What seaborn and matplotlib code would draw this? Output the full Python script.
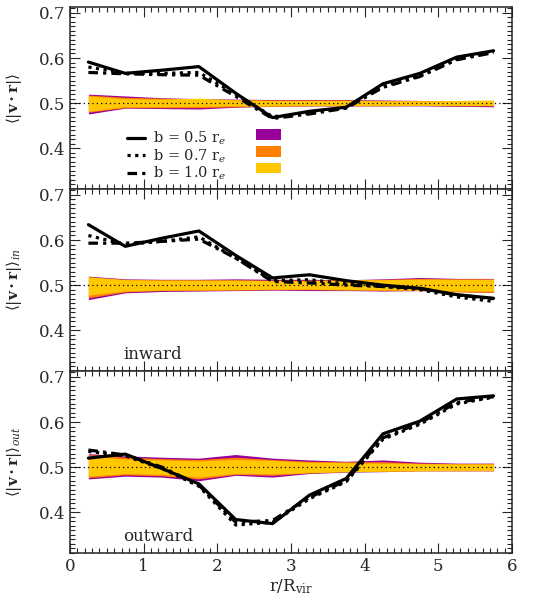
import numpy as np
import pandas as pd
import seaborn as sns
import matplotlib
matplotlib.use("Agg")
import matplotlib.pyplot as plt
from matplotlib.ticker import MultipleLocator, FormatStrFormatter
from matplotlib.lines import Line2D
from matplotlib.patches import Patch

# radial bins (r / R_vir)
r_bins = [0.25, 0.75, 1.25, 1.75, 2.25, 2.75, 3.25, 3.75, 4.25, 4.75, 5.25, 5.75]
b_labels = ["0.5", "0.7", "1.0"]

# <|v.r|> all galaxies
all_b05 = [0.591, 0.566, 0.573, 0.581, 0.522, 0.468, 0.482, 0.491, 0.543, 0.566, 0.602, 0.616]
all_b07 = [0.580, 0.566, 0.566, 0.568, 0.520, 0.470, 0.478, 0.490, 0.538, 0.561, 0.598, 0.613]
all_b10 = [0.568, 0.565, 0.563, 0.562, 0.515, 0.466, 0.476, 0.489, 0.535, 0.559, 0.596, 0.612]

# inward moving
in_b05 = [0.634, 0.586, 0.604, 0.620, 0.566, 0.516, 0.523, 0.510, 0.500, 0.493, 0.479, 0.471]
in_b07 = [0.610, 0.590, 0.597, 0.607, 0.560, 0.510, 0.512, 0.503, 0.497, 0.490, 0.474, 0.464]
in_b10 = [0.593, 0.593, 0.597, 0.602, 0.560, 0.508, 0.505, 0.500, 0.497, 0.493, 0.478, 0.470]

# outward moving
out_b05 = [0.520, 0.529, 0.497, 0.463, 0.384, 0.375, 0.438, 0.475, 0.574, 0.602, 0.651, 0.658]
out_b07 = [0.535, 0.525, 0.497, 0.458, 0.372, 0.378, 0.430, 0.468, 0.562, 0.595, 0.640, 0.655]
out_b10 = [0.538, 0.527, 0.500, 0.460, 0.378, 0.382, 0.433, 0.470, 0.565, 0.598, 0.643, 0.656]

# random-expectation bands (purple b=0.5, orange b=0.7, yellow b=1.0)
all_p_hi = [0.520, 0.516, 0.512, 0.510, 0.509, 0.508, 0.508, 0.508, 0.507, 0.506, 0.505, 0.505]
all_p_lo = [0.476, 0.489, 0.488, 0.487, 0.491, 0.493, 0.494, 0.494, 0.494, 0.494, 0.493, 0.492]
all_o_hi = [0.518, 0.513, 0.511, 0.510, 0.508, 0.507, 0.507, 0.507, 0.506, 0.506, 0.505, 0.505]
all_o_lo = [0.480, 0.490, 0.490, 0.490, 0.492, 0.493, 0.494, 0.494, 0.494, 0.495, 0.494, 0.494]
all_y_hi = [0.516, 0.510, 0.509, 0.511, 0.507, 0.506, 0.506, 0.506, 0.505, 0.505, 0.506, 0.507]
all_y_lo = [0.482, 0.492, 0.492, 0.493, 0.494, 0.494, 0.495, 0.495, 0.495, 0.495, 0.495, 0.495]

in_p_hi = [0.520, 0.514, 0.513, 0.513, 0.514, 0.513, 0.513, 0.512, 0.514, 0.517, 0.515, 0.515]
in_p_lo = [0.468, 0.483, 0.486, 0.487, 0.488, 0.489, 0.488, 0.488, 0.487, 0.488, 0.486, 0.484]
in_o_hi = [0.519, 0.513, 0.512, 0.512, 0.512, 0.511, 0.511, 0.512, 0.513, 0.515, 0.514, 0.514]
in_o_lo = [0.472, 0.485, 0.488, 0.488, 0.489, 0.490, 0.490, 0.489, 0.488, 0.488, 0.485, 0.484]
in_y_hi = [0.518, 0.512, 0.511, 0.511, 0.511, 0.510, 0.510, 0.511, 0.512, 0.513, 0.513, 0.513]
in_y_lo = [0.478, 0.487, 0.489, 0.490, 0.490, 0.491, 0.491, 0.490, 0.490, 0.489, 0.487, 0.487]

out_p_hi = [0.530, 0.525, 0.522, 0.520, 0.528, 0.520, 0.516, 0.513, 0.516, 0.511, 0.509, 0.509]
out_p_lo = [0.474, 0.480, 0.478, 0.470, 0.482, 0.478, 0.486, 0.489, 0.490, 0.492, 0.492, 0.492]
out_o_hi = [0.528, 0.522, 0.519, 0.517, 0.522, 0.517, 0.513, 0.512, 0.512, 0.509, 0.508, 0.508]
out_o_lo = [0.477, 0.483, 0.481, 0.474, 0.484, 0.482, 0.487, 0.490, 0.491, 0.492, 0.492, 0.492]
out_y_hi = [0.524, 0.518, 0.516, 0.514, 0.517, 0.515, 0.511, 0.510, 0.509, 0.508, 0.507, 0.507]
out_y_lo = [0.480, 0.486, 0.484, 0.478, 0.486, 0.485, 0.488, 0.490, 0.491, 0.492, 0.493, 0.493]

band_colors = ["#990099", "#ff7f00", "#ffc800"]
dash_map = {"0.5": "", "0.7": (1, 1.4), "1.0": (3, 1.6, 1, 1.6)}

panels = [
    ([all_b05, all_b07, all_b10],
     [(all_p_lo, all_p_hi), (all_o_lo, all_o_hi), (all_y_lo, all_y_hi)],
     r"$\langle|\mathbf{v\cdot r}|\rangle$", None),
    ([in_b05, in_b07, in_b10],
     [(in_p_lo, in_p_hi), (in_o_lo, in_o_hi), (in_y_lo, in_y_hi)],
     r"$\langle|\mathbf{v\cdot r}|\rangle_{in}$", "inward"),
    ([out_b05, out_b07, out_b10],
     [(out_p_lo, out_p_hi), (out_o_lo, out_o_hi), (out_y_lo, out_y_hi)],
     r"$\langle|\mathbf{v\cdot r}|\rangle_{out}$", "outward"),
]

sns.set_style("ticks")
plt.rcParams["font.family"] = ["DejaVu Serif"]
plt.rcParams["mathtext.fontset"] = "dejavuserif"

fig, axes = plt.subplots(3, 1, figsize=(5.45, 6.01), dpi=100, sharex=True)
fig.subplots_adjust(left=0.1284, right=0.9394, bottom=0.0799, top=0.9884, hspace=0)

for ax, (lines, bands, ylab, tag) in zip(axes, panels):
    for (lo, hi), c in zip(bands, band_colors):
        ax.fill_between(r_bins, lo, hi, color=c, lw=0, zorder=1)
    ax.axhline(0.5, color="k", lw=0.9, ls=(0, (1, 2.5)), zorder=2)

    df = pd.DataFrame({
        "r": r_bins * 3,
        "val": lines[0] + lines[1] + lines[2],
        "b": sum([[b] * len(r_bins) for b in b_labels], []),
    })
    sns.lineplot(data=df, x="r", y="val", style="b", dashes=dash_map,
                 color="k", lw=2.3, errorbar=None, legend=False, ax=ax, zorder=3)

    ax.set_xlim(0, 6)
    ax.set_ylim(0.31, 0.713)
    ax.xaxis.set_major_locator(MultipleLocator(1))
    ax.xaxis.set_minor_locator(MultipleLocator(0.1))
    ax.yaxis.set_major_locator(MultipleLocator(0.1))
    ax.yaxis.set_minor_locator(MultipleLocator(0.01))
    ax.yaxis.set_major_formatter(FormatStrFormatter("%.1f"))
    ax.tick_params(which="both", direction="in", top=True, right=True, width=0.8)
    ax.tick_params(which="major", length=7, labelsize=12)
    ax.tick_params(which="minor", length=3.5)
    for s in ax.spines.values():
        s.set_linewidth(1.1)
    ax.set_ylabel(ylab, fontsize=11, labelpad=8)
    ax.set_xlabel("")
    if tag:
        ax.text(0.72, 0.347, tag, fontsize=12, va="center", ha="left")

axes[2].set_xlabel(r"r/R$_{\rm vir}$", fontsize=12, labelpad=2)
for ax in axes:
    ax.yaxis.set_label_coords(-0.105, 0.5)

# legend in top panel
line_h = [Line2D([], [], color="k", lw=2.3, ls="-"),
          Line2D([], [], color="k", lw=2.3, ls=(0, (1, 1.4))),
          Line2D([], [], color="k", lw=2.3, ls=(0, (3, 1.6, 1, 1.6)))]
line_l = [r"b = %s r$_e$" % b for b in b_labels]
leg1 = axes[0].legend(line_h, line_l, loc="upper left", bbox_to_anchor=(0.128, 0.325),
                      frameon=False, fontsize=10.5, handlelength=1.25, handletextpad=0.55,
                      labelspacing=0.0, borderpad=0, borderaxespad=0)
axes[0].add_artist(leg1)
patch_h = [Patch(color=c, lw=0) for c in band_colors]
axes[0].legend(patch_h, ["", "", ""], loc="upper left", bbox_to_anchor=(0.421, 0.33),
               frameon=False, fontsize=11, handlelength=1.65, handleheight=0.7,
               handletextpad=0, labelspacing=0.18, borderpad=0, borderaxespad=0)

fig.savefig("out.png", dpi=100)
